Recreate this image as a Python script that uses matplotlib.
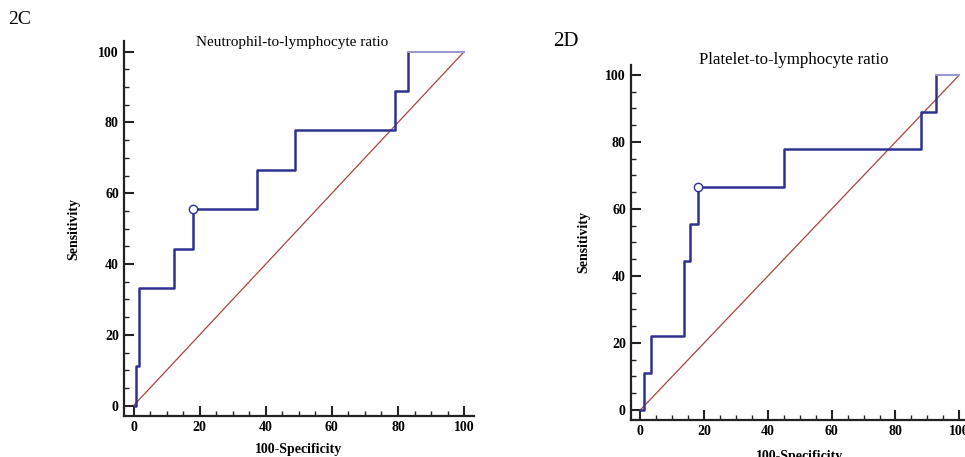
import matplotlib
matplotlib.use("Agg")
import matplotlib.pyplot as plt
from matplotlib.ticker import MultipleLocator

# ROC corner points (100-Specificity, Sensitivity)
nlr_fpr = [0, 0.6, 1.8, 12.3, 17.9, 37.3, 48.8, 79.2, 82.9, 100]
nlr_tpr = [0, 11.1, 33.3, 44.4, 55.6, 66.7, 77.8, 88.9, 100, 100]
nlr_cut = (17.9, 55.6)

plr_fpr = [0, 1.3, 3.5, 13.8, 15.7, 18.2, 45.0, 88.0, 92.8, 100]
plr_tpr = [0, 11.1, 22.2, 44.4, 55.6, 66.7, 77.8, 88.9, 100, 100]
plr_cut = (18.2, 66.7)

titles = ["Neutrophil-to-lymphocyte ratio", "Platelet-to-lymphocyte ratio"]
panel_tags = ["2C", "2D"]

plt.rcParams["font.family"] = ["Liberation Serif", "DejaVu Serif"]

CURVE = "#2e3192"
CURVE_LIGHT = "#9a9ad0"
DIAG = "#a8453f"

fig = plt.figure(figsize=(9.65, 4.57), dpi=100)
ax_l = fig.add_axes([0.1281, 0.0891, 0.3631, 0.821])
ax_r = fig.add_axes([0.6536, 0.0809, 0.3504, 0.777])


def draw_roc(ax, fpr, tpr, cut, title, title_y, title_size, ylab_x, xlab_y):
    ax.plot([0, 100], [0, 100], color=DIAG, lw=0.9, zorder=2)
    ax.step(fpr[:-1], tpr[:-1], where="post", color=CURVE, lw=1.8, zorder=3)
    ax.plot(fpr[-2:], tpr[-2:], color=CURVE_LIGHT, lw=1.5, zorder=3)
    ax.plot(*cut, "o", ms=6, mfc="white", mec=CURVE, mew=1.0, zorder=4)

    ax.set_xlim(-3, 103)
    ax.set_ylim(-3, 103)
    for s in ["top", "right"]:
        ax.spines[s].set_visible(False)
    for s in ["left", "bottom"]:
        ax.spines[s].set_linewidth(1.6)
        ax.spines[s].set_color("#222222")

    ax.xaxis.set_major_locator(MultipleLocator(20))
    ax.xaxis.set_minor_locator(MultipleLocator(5))
    ax.yaxis.set_major_locator(MultipleLocator(20))
    ax.yaxis.set_minor_locator(MultipleLocator(5))
    ax.tick_params(which="major", direction="in", length=7.5, width=1.5,
                   color="#222222", labelsize=10, pad=3.5)
    ax.tick_params(which="minor", direction="in", length=3.5, width=1.0,
                   color="#222222")
    for lab in ax.get_xticklabels() + ax.get_yticklabels():
        lab.set_fontweight("bold")

    ax.set_xlabel("100-Specificity", fontsize=10, fontweight="bold")
    ax.set_ylabel("Sensitivity", fontsize=10, fontweight="bold")
    ax.xaxis.set_label_coords(0.5, xlab_y)
    ax.yaxis.set_label_coords(ylab_x, 0.5)

    ax.text(48, title_y, title, ha="center", va="center", fontsize=title_size)


draw_roc(ax_l, nlr_fpr, nlr_tpr, nlr_cut, titles[0], 102.5, 11, -0.124, -0.072)
draw_roc(ax_r, plr_fpr, plr_tpr, plr_cut, titles[1], 104.5, 12.2, -0.12, -0.085)

fig.text(8 / 965, 1 - 20 / 457, panel_tags[0], fontsize=14, va="center")
fig.text(553 / 965, 1 - 42 / 457, panel_tags[1], fontsize=15, va="center")

fig.savefig("out.png", dpi=100)
